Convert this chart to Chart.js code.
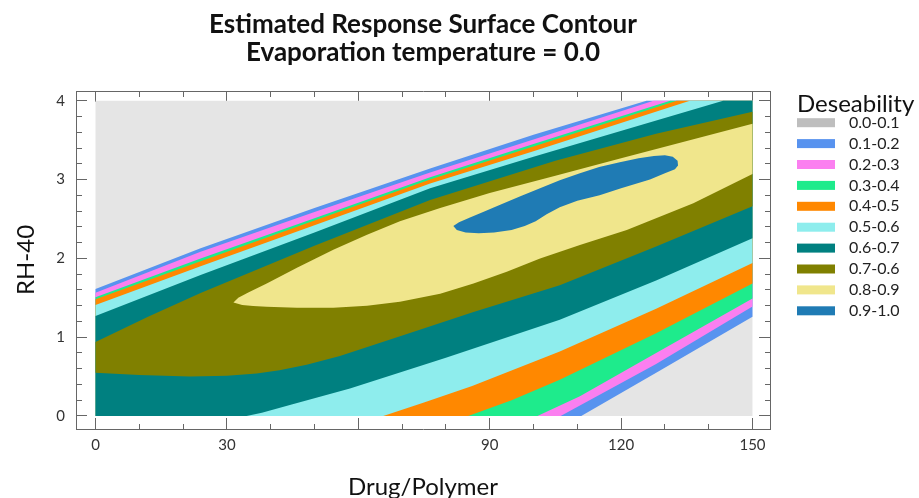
<!DOCTYPE html>
<html>
<head>
<meta charset="utf-8">
<script src="https://cdn.jsdelivr.net/npm/chart.js@4.4.1/dist/chart.umd.min.js"></script>
<style>
  html, body { margin: 0; padding: 0; background: #ffffff; }
  #wrap { width: 919px; height: 498px; }
</style>
</head>
<body>
<div id="wrap"><canvas id="contour" width="919" height="498"></canvas></div>
<script>
// ---- Text ----
const TITLE_LINES = ['Estimated Response Surface Contour', 'Evaporation temperature = 0.0'];
const X_TITLE = 'Drug/Polymer';
const Y_TITLE = 'RH-40';
const LEGEND_TITLE = 'Deseability';
const BAND_LABELS = ['0.0-0.1', '0.1-0.2', '0.2-0.3', '0.3-0.4', '0.4-0.5',
                     '0.5-0.6', '0.6-0.7', '0.7-0.6', '0.8-0.9', '0.9-1.0'];

// ---- Axis ticks ----
const X_TICKS = [0, 10, 20, 30, 40, 50, 60, 70, 80, 90, 100, 110, 120, 130, 140, 150];
const X_MAJOR = [0, 30, 60, 90, 120, 150];
const X_TICK_LABELS = { 0: '0', 30: '30', 90: '90', 120: '120', 150: '150' };
const Y_TICKS = [0, 0.2, 0.4, 0.6, 0.8, 1, 1.2, 1.4, 1.6, 1.8, 2, 2.2, 2.4, 2.6, 2.8,
                 3, 3.2, 3.4, 3.6, 3.8, 4];
const Y_TICK_LABELS = { 0: '0', 1: '1', 2: '2', 3: '3', 4: '4' };

// ---- Colours for each desirability band ----
const BAND_FILL = ['#e5e5e5', '#5893ef', '#fb7ff0', '#1eeb8c', '#ff8800',
                   '#8eeded', '#008080', '#808000', '#f0e68c', '#1f7bb4'];
const LEGEND_SWATCH = ['#bebebe', '#5893ef', '#fb7ff0', '#1eeb8c', '#ff8800',
                       '#8eeded', '#008080', '#808000', '#f0e68c', '#1f7bb4'];

// ---- Contour lines, [Drug/Polymer, RH-40] ----
// Upper-left contours: from the left edge up to the top edge
const c01Upper = [[0, 1.61], [24, 2.13], [50, 2.64], [76.4, 3.14], [100, 3.57], [125.8, 4.0]];
const c02Upper = [[0, 1.565], [24, 2.085], [50, 2.59], [76.4, 3.09], [100, 3.51], [127.4, 4.0]];
const c03Upper = [[0, 1.506], [24, 2.0], [50, 2.51], [76.4, 3.03], [100, 3.45], [131.2, 4.0]];
const c04Upper = [[0, 1.48], [24, 1.965], [50, 2.48], [76.4, 3.0], [100, 3.42], [132.7, 4.0]];
const c05Upper = [[0, 1.41], [24, 1.9], [50, 2.42], [76.4, 2.95], [100, 3.36], [135.7, 4.0]];
const c06Upper = [[0, 1.27], [24, 1.79], [50, 2.33], [76.4, 2.89], [100, 3.29], [143.3, 4.0]];
const c07Upper = [[0, 0.94], [12, 1.26], [24, 1.56], [50, 2.16], [76.4, 2.74], [105, 3.24],
                  [128, 3.58], [150, 3.86]];
const c08Upper = [[31.5, 1.44], [32.6, 1.5], [35, 1.57], [39.1, 1.68], [46, 1.88], [54.3, 2.11],
                  [62, 2.3], [69.5, 2.47], [78.7, 2.64], [90, 2.83], [105, 3.05], [120, 3.27],
                  [135, 3.49], [150, 3.71]];

// Lower-right contours: from the bottom (or left) edge to the right edge
const c01Lower = [[110.9, 0], [129, 0.58], [150, 1.26]];
const c02Lower = [[106.2, 0], [128, 0.66], [150, 1.39]];
const c03Lower = [[100.9, 0], [110.6, 0.25], [128, 0.8], [150, 1.49]];
const c04Lower = [[85.1, 0], [95, 0.2], [106, 0.46], [128, 1.05], [150, 1.68]];
const c05Lower = [[65.7, 0], [75, 0.17], [86, 0.38], [106, 0.82], [128, 1.36], [150, 1.94]];
const c06Lower = [[34.5, 0], [38, 0.04], [45, 0.15], [58.1, 0.35], [80, 0.74], [106, 1.22],
                  [128, 1.72], [150, 2.255]];
const c07Lower = [[0, 0.55], [10, 0.52], [21.6, 0.5], [30, 0.51], [36.8, 0.54], [42, 0.58],
                  [48.2, 0.65], [55.8, 0.76], [71.1, 1.04], [86.3, 1.32], [106, 1.66],
                  [128, 2.15], [150, 2.66]];
const c08Lower = [[31.5, 1.44], [33.5, 1.41], [36, 1.395], [39.1, 1.385], [46, 1.375],
                  [54.3, 1.375], [62, 1.4], [69.5, 1.45], [78.7, 1.55], [86.3, 1.68],
                  [93.9, 1.83], [101.5, 2.0], [110.6, 2.17], [121.3, 2.36], [136.5, 2.7],
                  [150, 3.07]];

// Closed 0.9 contour around the optimum
const c09Loop = [[81.7, 2.41], [83, 2.46], [85.5, 2.52], [88.5, 2.59], [92.4, 2.68], [97, 2.79],
                 [101.5, 2.89], [106, 2.99], [110.6, 3.08], [115, 3.16], [119.7, 3.22],
                 [124, 3.27], [127.5, 3.3], [130, 3.31], [131.8, 3.29], [132.9, 3.24],
                 [133, 3.18], [132.3, 3.13], [130, 3.08], [126.6, 3.0], [120, 2.89],
                 [115.1, 2.8], [110, 2.73], [106, 2.65], [103, 2.56], [100.5, 2.47],
                 [98, 2.41], [95, 2.36], [91, 2.33], [87.5, 2.32], [84.5, 2.33], [82.5, 2.36]];

// Design region
const X_RANGE = [0, 150];
const Y_RANGE = [0, 4];

// ---- Build the filled region where desirability >= each level ----
const toPts = arr => arr.map(([x, y]) => ({ x, y }));
const rev = arr => arr.slice().reverse();
const [x0, x1] = X_RANGE;
const [y0, y1] = Y_RANGE;

// band reaching the top and bottom edges: closed through the top-right and bottom-left corners
const openBand = (upper, lower) =>
  toPts([...upper, [x1, y1], ...rev(lower), [x0, y0]]);
// band bounded by two curves
const stripBand = (upper, lower) => toPts([...upper, ...rev(lower)]);

const regions = [
  toPts([[x0, y0], [x1, y0], [x1, y1], [x0, y1]]),
  openBand(c01Upper, c01Lower),
  openBand(c02Upper, c02Lower),
  openBand(c03Upper, c03Lower),
  openBand(c04Upper, c04Lower),
  openBand(c05Upper, c05Lower),
  openBand(c06Upper, c06Lower),
  stripBand(c07Upper, c07Lower),
  stripBand(c08Upper, c08Lower),
  toPts(c09Loop)
];

// first dataset is painted last, so list the highest level first
const datasets = regions.map((pts, i) => ({
  label: BAND_LABELS[i],
  data: pts,
  showLine: true,
  fill: 'shape',
  backgroundColor: BAND_FILL[i],
  borderColor: BAND_FILL[i],
  borderWidth: 0,
  pointRadius: 0,
  pointHoverRadius: 0,
  tension: 0
})).reverse();

// ---- Legend drawn beside the plot ----
const bandLegend = {
  id: 'bandLegend',
  afterDraw(chart) {
    const { ctx, chartArea } = chart;
    const left = chartArea.right + 27;
    ctx.save();
    ctx.textAlign = 'left';
    ctx.textBaseline = 'middle';
    ctx.fillStyle = '#111111';
    ctx.font = '24px Lato';
    ctx.fillText(LEGEND_TITLE, left, chartArea.top + 13);
    ctx.font = '16px Lato';
    BAND_LABELS.forEach((text, i) => {
      const yc = chartArea.top + 31.7 + i * 20.9;
      ctx.fillStyle = LEGEND_SWATCH[i];
      ctx.fillRect(left, yc - 4.5, 38, 9);
      ctx.fillStyle = '#222222';
      ctx.fillText(text, left + 52, yc);
    });
    ctx.restore();
  }
};

// ---- Tick helpers: long major ticks, short minor ticks, all pointing inwards ----
const isMajorX = v => X_MAJOR.includes(v);
const isMajorY = v => Number.isInteger(v);
const DASH_FROM_AXIS = [6, 100];       // tick drawn from the axis line inwards
const DASH_TO_AXIS = [0, 5, 6, 100];   // tick drawn from inside towards the axis line
const FRAME = '#666666';
const tickFont = { family: 'Lato', size: 15 };

const xTicksFrom = s => { s.ticks = X_TICKS.map(v => ({ value: v })); };
const yTicksFrom = s => { s.ticks = Y_TICKS.map(v => ({ value: v })); };

const X_MIN = -4.45, X_MAX = 154.0;
const Y_MIN = -0.165, Y_MAX = 4.124;

new Chart(document.getElementById('contour'), {
  type: 'scatter',
  data: { datasets },
  options: {
    responsive: false,
    animation: false,
    devicePixelRatio: 1,
    events: [],
    layout: { padding: { left: 0, right: 149, top: 0, bottom: 0 } },
    plugins: {
      legend: { display: false },
      tooltip: { enabled: false },
      title: {
        display: true,
        fullSize: false,
        text: TITLE_LINES,
        color: '#111111',
        font: { family: 'Lato', size: 26, weight: 'bold', lineHeight: 28 / 26 },
        padding: { top: 11, bottom: 24 }
      }
    },
    scales: {
      x: {
        type: 'linear', position: 'bottom', min: X_MIN, max: X_MAX,
        afterBuildTicks: xTicksFrom,
        afterFit: s => { s.height = 69; },
        ticks: {
          autoSkip: false, maxRotation: 0, padding: 18, color: '#333333', font: tickFont,
          callback: v => X_TICK_LABELS[v] ?? ''
        },
        grid: {
          drawOnChartArea: false, tickLength: -11, tickColor: FRAME, tickWidth: 1,
          tickBorderDash: c => isMajorX(c.tick.value) ? [] : DASH_FROM_AXIS
        },
        border: { display: true, color: FRAME, width: 1 },
        title: {
          display: true, text: X_TITLE, color: '#111111',
          font: { family: 'Lato', size: 24, lineHeight: 1 }, padding: { top: 0, bottom: -1 }
        }
      },
      xTop: {
        type: 'linear', position: 'top', min: X_MIN, max: X_MAX,
        afterBuildTicks: xTicksFrom,
        afterFit: s => { s.height = 0; },
        ticks: { display: false },
        grid: {
          drawOnChartArea: false, tickLength: -11, tickColor: FRAME, tickWidth: 1,
          tickBorderDash: c => isMajorX(c.tick.value) ? [] : DASH_TO_AXIS
        },
        border: { display: true, color: FRAME, width: 1 }
      },
      y: {
        type: 'linear', position: 'left', min: Y_MIN, max: Y_MAX,
        afterBuildTicks: yTicksFrom,
        afterFit: s => { s.width = 76; },
        ticks: {
          autoSkip: false, padding: 22, color: '#333333', font: tickFont,
          callback: v => Y_TICK_LABELS[v] ?? ''
        },
        grid: {
          drawOnChartArea: false, tickLength: -11, tickColor: FRAME, tickWidth: 1,
          tickBorderDash: c => isMajorY(c.tick.value) ? [] : DASH_TO_AXIS
        },
        border: { display: true, color: FRAME, width: 1 },
        title: {
          display: true, text: Y_TITLE, color: '#111111',
          font: { family: 'Lato', size: 24, lineHeight: 1 }, padding: { top: 14, bottom: 0 }
        }
      },
      yRight: {
        type: 'linear', position: 'right', min: Y_MIN, max: Y_MAX,
        afterBuildTicks: yTicksFrom,
        afterFit: s => { s.width = 0; },
        ticks: { display: false },
        grid: {
          drawOnChartArea: false, tickLength: -11, tickColor: FRAME, tickWidth: 1,
          tickBorderDash: c => isMajorY(c.tick.value) ? [] : DASH_FROM_AXIS
        },
        border: { display: true, color: FRAME, width: 1 }
      }
    }
  },
  plugins: [bandLegend]
});
</script>
</body>
</html>
